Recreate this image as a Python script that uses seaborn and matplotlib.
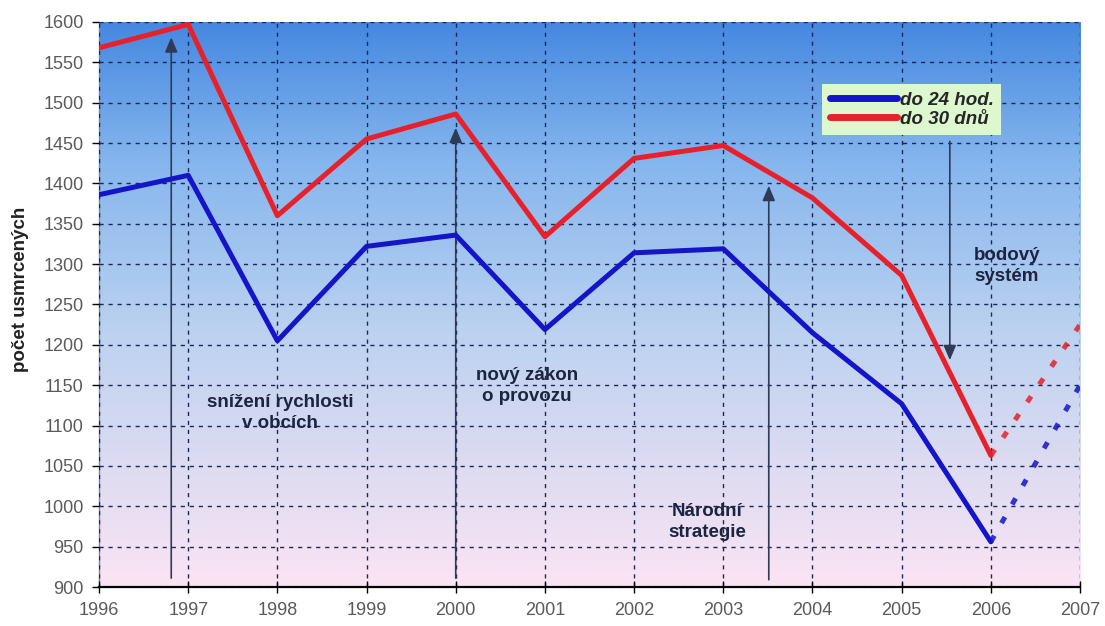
import numpy as np
import pandas as pd
import matplotlib
matplotlib.use("Agg")
import matplotlib.pyplot as plt
from matplotlib.colors import LinearSegmentedColormap
from matplotlib.lines import Line2D
import seaborn as sns

# Road deaths in the Czech Republic
years = [1996, 1997, 1998, 1999, 2000, 2001, 2002, 2003, 2004, 2005, 2006]
killed_24h = [1386, 1410, 1205, 1322, 1336, 1219, 1314, 1319, 1215, 1127, 956]
killed_30d = [1568, 1597, 1360, 1455, 1486, 1334, 1431, 1447, 1382, 1286, 1063]

# Dotted continuation towards 2007
proj_years = [2006, 2007]
proj_24h = [956, 1150]
proj_30d = [1063, 1225]

series_names = ["do 24 hod.", "do 30 dnů"]
x_ticks = list(range(1996, 2008))
y_ticks = list(range(900, 1601, 50))

sns.set_theme(style="white")
plt.rcParams["font.family"] = ["Liberation Sans", "DejaVu Sans"]

BLUE = "#1414c8"
RED = "#e8202a"

df = pd.DataFrame({
    "rok": years * 2,
    "počet": killed_24h + killed_30d,
    "série": [series_names[0]] * len(years) + [series_names[1]] * len(years),
})
df_proj = pd.DataFrame({
    "rok": proj_years * 2,
    "počet": proj_24h + proj_30d,
    "série": [series_names[0]] * 2 + [series_names[1]] * 2,
})

fig = plt.figure(figsize=(11.05, 6.26), dpi=100)
ax = fig.add_axes([0.0896, 0.0623, 0.8878, 0.9026])

# vertical gradient background of the plot area
grad_cmap = LinearSegmentedColormap.from_list(
    "bg", [(0.0, "#fbe4f4"), (0.45, "#bcd2f0"), (0.75, "#86b6ee"), (1.0, "#4588e0")]
)
grad = np.linspace(0, 1, 256).reshape(-1, 1)
ax.imshow(grad, cmap=grad_cmap, origin="lower", aspect="auto",
          extent=[1996, 2007, 900, 1600], zorder=0)

ax.set_xlim(1996, 2007)
ax.set_ylim(900, 1600)

# grid
ax.set_xticks(x_ticks)
ax.set_yticks(y_ticks)
ax.grid(True, linestyle=(0, (3, 3.5)), color="#1a2858", linewidth=1.0, zorder=1)
ax.set_axisbelow(False)

palette = {series_names[0]: BLUE, series_names[1]: RED}
sns.lineplot(data=df, x="rok", y="počet", hue="série", palette=palette,
             linewidth=3.6, legend=False, ax=ax, zorder=4)
proj_lines_start = len(ax.lines)
sns.lineplot(data=df_proj, x="rok", y="počet", hue="série", palette=palette,
             linewidth=3.6, legend=False, ax=ax, zorder=4)
for ln in ax.lines[proj_lines_start:]:
    ln.set_linestyle((0, (1.4, 2.9)))
    ln.set_alpha(0.85)

# policy milestones: arrows
arrow_kw = dict(arrowstyle="-|>,head_length=0.75,head_width=0.32", color="#2e3a56",
                lw=1.2, mutation_scale=12, shrinkA=0, shrinkB=0)
ax.annotate("", xy=(1996.81, 1581), xytext=(1996.81, 911), arrowprops=arrow_kw, zorder=3)
ax.annotate("", xy=(2000.0, 1469), xytext=(2000.0, 911), arrowprops=arrow_kw, zorder=3)
ax.annotate("", xy=(2003.51, 1397), xytext=(2003.51, 909), arrowprops=arrow_kw, zorder=3)
ax.annotate("", xy=(2005.54, 1181), xytext=(2005.54, 1452), arrowprops=arrow_kw, zorder=3)

txt_kw = dict(ha="center", va="center", fontsize=13.5, fontweight="bold",
              color="#1c2440", linespacing=1.3, zorder=5)
ax.text(1998.03, 1116, "snížení rychlosti\nv obcích", **txt_kw)
ax.text(2000.8, 1149, "nový zákon\no provozu", **txt_kw)
ax.text(2002.82, 981, "Národní\nstrategie", **txt_kw)
ax.text(2006.18, 1298, "bodový\nsystém", **txt_kw)

# axes styling
for side in ["top", "right"]:
    ax.spines[side].set_visible(False)
ax.spines["bottom"].set_color("black")
ax.spines["bottom"].set_linewidth(1.6)
ax.spines["left"].set_color("#7a8699")
ax.spines["left"].set_linewidth(1.0)
ax.tick_params(axis="y", which="major", direction="out", length=5, width=1,
               color="black", labelsize=13, labelcolor="#5a5a5a", left=True, pad=6)
ax.tick_params(axis="x", which="major", direction="inout", length=9, width=1,
               color="black", labelsize=13, labelcolor="#5a5a5a", bottom=True, pad=6)
ax.set_xlabel("")
ax.set_ylabel("počet usmrcených", fontsize=13.5, fontweight="bold", color="#222222")
ax.yaxis.set_label_coords(-0.0715, 0.527)

handles = [Line2D([0], [0], color=BLUE, lw=5),
           Line2D([0], [0], color=RED, lw=5)]
leg = ax.legend(handles, series_names, loc="upper left",
                bbox_to_anchor=(0.737, 0.89), frameon=True, fancybox=False,
                handlelength=3.6, handletextpad=0.15, labelspacing=0.1,
                borderpad=0.4, borderaxespad=0,
                prop={"size": 13.5, "style": "italic", "weight": "bold"})
leg.get_frame().set_facecolor("#ddf7cf")
leg.get_frame().set_edgecolor("none")
leg.get_frame().set_alpha(1)
leg.set_zorder(6)

fig.savefig("out.png", dpi=100, facecolor="white")
